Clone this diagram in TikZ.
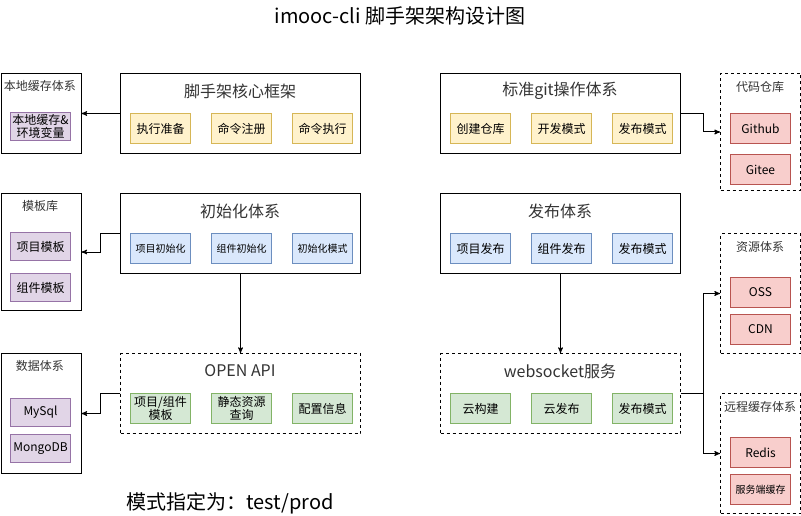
\documentclass[tikz,border=0pt]{standalone}
\usepackage{fontspec}
\setmainfont{Noto Sans CJK SC}
\usetikzlibrary{positioning,arrows}

\definecolor{yellowfill}{HTML}{FFF2CC}
\definecolor{yellowline}{HTML}{D6B656}
\definecolor{bluefill}{HTML}{DAE8FC}
\definecolor{blueline}{HTML}{6C8EBF}
\definecolor{greenfill}{HTML}{D5E8D4}
\definecolor{greenline}{HTML}{82B366}
\definecolor{purplefill}{HTML}{E1D5E7}
\definecolor{purpleline}{HTML}{9673A6}
\definecolor{redfill}{HTML}{F8CECC}
\definecolor{redline}{HTML}{B85450}
\definecolor{titlegray}{HTML}{333333}

\tikzstyle{system}=[rectangle, draw=black, line width=1pt, anchor=north west,
        minimum width=240pt, minimum height=80pt, inner sep=0pt]
\tikzstyle{service}=[system, dash pattern=on 3pt off 3pt]
\tikzstyle{group}=[rectangle, draw=black, line width=1pt, anchor=north west,
        minimum width=80pt, minimum height=120pt, inner sep=0pt]
\tikzstyle{dashedgroup}=[group, dash pattern=on 3pt off 3pt]
\tikzstyle{title}=[text=titlegray, font=\fontsize{16}{18}\selectfont]
\tikzstyle{subtitle}=[text=titlegray, font=\fontsize{12}{14}\selectfont]
\tikzstyle{item}=[rectangle, line width=1pt, minimum width=60pt, minimum height=30pt,
        inner sep=0pt, align=center, font=\fontsize{12}{13}\selectfont]
\tikzstyle{yellowitem}=[item, draw=yellowline, fill=yellowfill]
\tikzstyle{blueitem}=[item, draw=blueline, fill=bluefill, font=\fontsize{10}{12}\selectfont]
\tikzstyle{greenitem}=[item, draw=greenline, fill=greenfill]
\tikzstyle{purpleitem}=[item, draw=purpleline, fill=purplefill, minimum height=28pt]
\tikzstyle{reditem}=[item, draw=redline, fill=redfill]
\tikzstyle{myarrow}=[->, >=stealth', line width=1pt]

\begin{document}
\begin{tikzpicture}[x=1pt, y=-1pt]
    \useasboundingbox (0,0) rectangle (801,516);

    \node (Heading) [font=\fontsize{20}{24}\selectfont] at (400,16) {imooc-cli 脚手架架构设计图};
    \node (ModeNote) [font=\fontsize{20}{24}\selectfont] at (230,503) {模式指定为：test/prod};

    % left column
    \node (LocalCache) [group, minimum height=80pt] at (0.5,73) {};
    \node (LocalCacheTitle) [subtitle] at (40,86) {本地缓存体系};
    \node (LocalEnv) [purpleitem, anchor=north west] at (10,112) {本地缓存\&\\环境变量};

    \node (Template) [group, minimum height=117pt] at (0.5,193) {};
    \node (TemplateTitle) [subtitle] at (40,206) {模板库};
    \node (ProjectTpl) [purpleitem, anchor=north west] at (10,232) {项目模板};
    \node (ComponentTpl) [purpleitem, below=12pt of ProjectTpl] {组件模板};

    \node (Data) [group] at (0.5,353) {};
    \node (DataTitle) [subtitle] at (40,366) {数据体系};
    \node (MySql) [purpleitem, anchor=north west] at (10,398) {MySql};
    \node (MongoDB) [purpleitem, below=7pt of MySql] {MongoDB};

    % core column
    \node (Core) [system] at (120,73) {};
    \node (CoreTitle) [title] at (240,91) {脚手架核心框架};
    \node (Prepare) [yellowitem, anchor=north west] at (130,113) {执行准备};
    \node (Register) [yellowitem, right=20pt of Prepare] {命令注册};
    \node (Execute) [yellowitem, right=20pt of Register] {命令执行};

    \node (Init) [system] at (120,193) {};
    \node (InitTitle) [title] at (240,211) {初始化体系};
    \node (ProjectInit) [blueitem, anchor=north west] at (130,233) {项目初始化};
    \node (ComponentInit) [blueitem, right=20pt of ProjectInit] {组件初始化};
    \node (InitMode) [blueitem, right=20pt of ComponentInit] {初始化模式};

    \node (OpenApi) [service] at (120,353) {};
    \node (OpenApiTitle) [title] at (240,371) {OPEN API};
    \node (TplApi) [greenitem, anchor=north west] at (130,393) {项目/组件\\模板};
    \node (StaticApi) [greenitem, right=20pt of TplApi] {静态资源\\查询};
    \node (ConfigApi) [greenitem, right=20pt of StaticApi] {配置信息};

    % right column
    \node (Git) [system] at (440,73) {};
    \node (GitTitle) [title] at (560,91) {标准git操作体系};
    \node (CreateRepo) [yellowitem, anchor=north west] at (450,113) {创建仓库};
    \node (DevMode) [yellowitem, right=20pt of CreateRepo] {开发模式};
    \node (GitPublishMode) [yellowitem, right=20pt of DevMode] {发布模式};

    \node (Publish) [system] at (440,193) {};
    \node (PublishTitle) [title] at (560,211) {发布体系};
    \node (ProjectPublish) [blueitem, anchor=north west, font=\fontsize{12}{13}\selectfont] at (450,233) {项目发布};
    \node (ComponentPublish) [blueitem, right=20pt of ProjectPublish, font=\fontsize{12}{13}\selectfont] {组件发布};
    \node (PublishMode) [blueitem, right=20pt of ComponentPublish, font=\fontsize{12}{13}\selectfont] {发布模式};

    \node (Websocket) [service] at (440,353) {};
    \node (WebsocketTitle) [title] at (560,371) {websocket服务};
    \node (CloudBuild) [greenitem, anchor=north west] at (450,393) {云构建};
    \node (CloudPublish) [greenitem, right=20pt of CloudBuild] {云发布};
    \node (CloudMode) [greenitem, right=20pt of CloudPublish] {发布模式};

    % far right
    \node (CodeRepo) [dashedgroup, minimum height=117pt] at (720,73) {};
    \node (CodeRepoTitle) [subtitle] at (760,87) {代码仓库};
    \node (Github) [reditem, anchor=north west] at (730,113) {Github};
    \node (Gitee) [reditem, below=10pt of Github] {Gitee};

    \node (Resource) [dashedgroup] at (720,233) {};
    \node (ResourceTitle) [subtitle] at (760,247) {资源体系};
    \node (OSS) [reditem, anchor=north west] at (730,277) {OSS};
    \node (CDN) [reditem, below=6pt of OSS] {CDN};

    \node (Remote) [dashedgroup] at (720,393) {};
    \node (RemoteTitle) [subtitle] at (760,407) {远程缓存体系};
    \node (Redis) [reditem, anchor=north west] at (730,437) {Redis};
    \node (ServerCache) [reditem, below=6pt of Redis, font=\fontsize{10}{12}\selectfont] {服务端缓存};

    \draw[myarrow] (Core.west) -- (LocalCache.east);
    \draw[myarrow] (Init.west) -- ++(-20,0) |- (Template.east);
    \draw[myarrow] (OpenApi.west) -- ++(-20,0) |- (Data.east);
    \draw[myarrow] (Init.south) -- (OpenApi.north);
    \draw[myarrow] (Publish.south) -- (Websocket.north);
    \draw[myarrow] (Git.east) -- ++(22,0) |- (CodeRepo.west);
    \draw[myarrow] (Websocket.east) -- ++(22,0) coordinate (Fork) |- (Resource.west);
    \draw[myarrow] (Fork) |- (Remote.west);
\end{tikzpicture}
\end{document}
